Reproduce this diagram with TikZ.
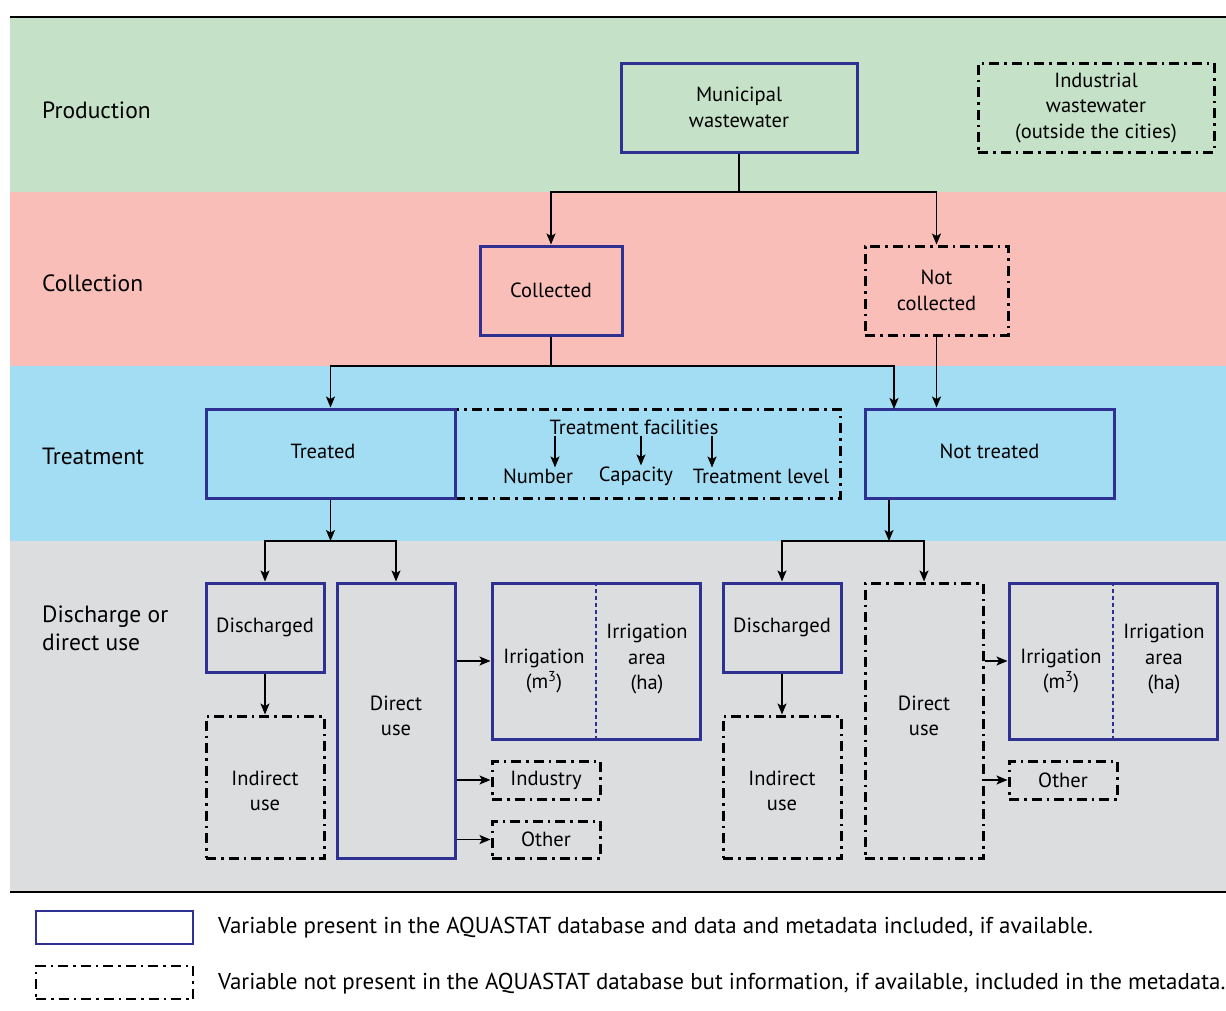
\documentclass[tikz,border=0pt]{standalone}
\usepackage{fontspec}
\setmainfont{PT Sans}
\usetikzlibrary{arrows.meta}
\definecolor{bgreen}{RGB}{197,226,200}
\definecolor{bpink}{RGB}{248,190,183}
\definecolor{bblue}{RGB}{163,221,243}
\definecolor{bgray}{RGB}{220,221,223}
\definecolor{edgeblue}{RGB}{46,49,146}
\newcommand\nodef{\fontsize{20.5}{25.5}\selectfont}
\newcommand\bandf{\fontsize{23.5}{28}\selectfont}
\newcommand\legf{\fontsize{22.95}{27}\selectfont}
\begin{document}
\begin{tikzpicture}[x=1pt,y=-1pt,
  solidbox/.style={draw=edgeblue, line width=3pt, inner sep=0pt, align=center, font=\nodef},
  dashbox/.style={draw=black, line width=3pt, dash pattern=on 10pt off 5pt on 2.5pt off 5pt, inner sep=0pt, align=center, font=\nodef},
  txt/.style={inner sep=1pt, align=center, font=\nodef},
  band/.style={inner sep=0pt, anchor=west, align=left, font=\bandf},
  conn/.style={line width=1.3pt},
  arr/.style={line width=1.3pt, -{Stealth[length=11pt,width=9pt,inset=2.5pt]}},
  divider/.style={draw=edgeblue, line width=2.2pt, dash pattern=on 4pt off 3pt}]
\useasboundingbox (0,0) rectangle (1226,1010);
% bands
\fill[bgreen] (10,17) rectangle (1226,192);
\fill[bpink] (10,192) rectangle (1226,366);
\fill[bblue] (10,366) rectangle (1226,541);
\fill[bgray] (10,541) rectangle (1226,892);
\draw[line width=1.6pt] (10,17) -- (1226,17);
\draw[line width=1.6pt] (10,892) -- (1226,892);
% band labels
\node[band] (lprod) at (42,110) {Production};
\node[band] (lcoll) at (42,283) {Collection};
\node[band] (ltreat) at (42,456) {Treatment};
\node[band] (ldis) at (42,628) {Discharge or\\direct use};
% nodes
\node[solidbox, minimum width=236pt, minimum height=89pt] (mun) at (739,107.5) {Municipal\\wastewater};
\node[dashbox, minimum width=236pt, minimum height=89pt] (ind) at (1096,107.5) {Industrial\\wastewater\\(outside the cities)};
\node[solidbox, minimum width=142pt, minimum height=89pt] (col) at (551,290.5) {Collected};
\node[dashbox, minimum width=143pt, minimum height=89pt] (ncol) at (936.5,290.5) {Not\\collected};
\node[dashbox, minimum width=385pt, minimum height=89pt] (tfbox) at (647.5,453.5) {};
\node[solidbox, minimum width=249pt, minimum height=89pt] (trt) at (330.5,453.5) {};
\node[txt] (trtlab) at (323,451) {Treated};
\node[solidbox, minimum width=249pt, minimum height=89pt] (ntrt) at (989.5,453.5) {};
\node[txt] (ntrtlab) at (989.5,451) {Not treated};
\node[txt] (tf) at (634,427) {Treatment facilities};
\node[txt] (num) at (538,476) {Number};
\node[txt] (cap) at (636,476) {Capacity};
\node[txt] (lvl) at (761,476) {Treatment level};
\node[solidbox, minimum width=118pt, minimum height=89pt] (disL) at (265,627.5) {Discharged};
\node[solidbox, minimum width=118pt, minimum height=275pt] (duL) at (396,720.5) {};
\node[txt] (duLlab) at (396,716) {Direct\\use};
\node[dashbox, minimum width=118pt, minimum height=142pt] (inL) at (265,787) {};
\node[txt] (inLlab) at (265,791) {Indirect\\use};
\node[solidbox, minimum width=208pt, minimum height=156pt] (irL) at (596,661) {};
\node[dashbox, minimum width=108pt, minimum height=38pt] (indu) at (546,780) {Industry};
\node[dashbox, minimum width=108pt, minimum height=37pt] (othL) at (546,839.5) {Other};
\node[solidbox, minimum width=118pt, minimum height=89pt] (disR) at (782,627.5) {Discharged};
\node[dashbox, minimum width=118pt, minimum height=142pt] (inR) at (782,787) {};
\node[txt] (inRlab) at (782,791) {Indirect\\use};
\node[dashbox, minimum width=118pt, minimum height=275pt] (duR) at (924,720.5) {};
\node[txt] (duRlab) at (924,716) {Direct\\use};
\node[solidbox, minimum width=208pt, minimum height=156pt] (irR) at (1113,661) {};
\node[dashbox, minimum width=108pt, minimum height=38pt] (othR) at (1063,780) {Other};
% irrigation contents
\draw[divider] (irL.north) -- (irL.south);
\draw[divider] (irR.north) -- (irR.south);
\node[txt] (irLa) at (544,671) {Irrigation\\(m\textsuperscript{3})};
\node[txt] (irLb) at (647,659) {Irrigation\\area\\(ha)};
\node[txt] (irRa) at (1061,671) {Irrigation\\(m\textsuperscript{3})};
\node[txt] (irRb) at (1164,659) {Irrigation\\area\\(ha)};
% connectors
\coordinate (j1) at (739,192);
\draw[conn] (mun.south) -- (j1);
\draw[arr] (j1) -| (col.north);
\draw[arr] (j1) -| (ncol.north);
\coordinate (j2) at (551,366);
\draw[conn] (col.south) -- (j2);
\draw[arr] (j2) -| (trt.north);
\coordinate (ntin) at (894,409);
\draw[arr] (j2) -| (ntin);
\draw[arr] (ncol.south) -- (ncol.south |- ntrt.north);
\draw[arr] ([xshift=17pt]num.north |- tf.south) -- ([xshift=17pt]num.north);
\draw[arr] ([xshift=5pt]cap.north |- tf.south) -- ([xshift=5pt]cap.north);
\draw[arr] ([xshift=-49pt]lvl.north |- tf.south) -- ([xshift=-49pt]lvl.north);
\coordinate (j3) at (330.5,541);
\draw[arr] (trt.south) -- (j3);
\draw[arr] (j3) -| (disL.north);
\draw[arr] (j3) -| (duL.north);
\coordinate (j4) at (889,541);
\draw[arr] (j4 |- ntrt.south) -- (j4);
\draw[arr] (j4) -| (disR.north);
\draw[arr] (j4) -| (duR.north);
\draw[arr] (disL) -- (inL);
\draw[arr] (disR) -- (inR);
\draw[arr] (duL.east |- irL.west) -- (irL.west);
\draw[arr] (duL.east |- indu.west) -- (indu.west);
\draw[arr] (duL.east |- othL.west) -- (othL.west);
\draw[arr] (duR.east |- irR.west) -- (irR.west);
\draw[arr] (duR.east |- othR.west) -- (othR.west);
% legend
\node[solidbox, line width=2.4pt, minimum width=157pt, minimum height=33pt] (lg1) at (114.5,927.5) {};
\node[dashbox, line width=2.4pt, minimum width=157pt, minimum height=33pt] (lg2) at (114.5,982.5) {};
\node[txt, anchor=west, font=\legf] (lt1) at (217,928) {Variable present in the AQUASTAT database and data and metadata included, if available.};
\node[txt, anchor=west, font=\legf] (lt2) at (217,984) {Variable not present in the AQUASTAT database but information, if available, included in the metadata.};
\end{tikzpicture}
\end{document}
